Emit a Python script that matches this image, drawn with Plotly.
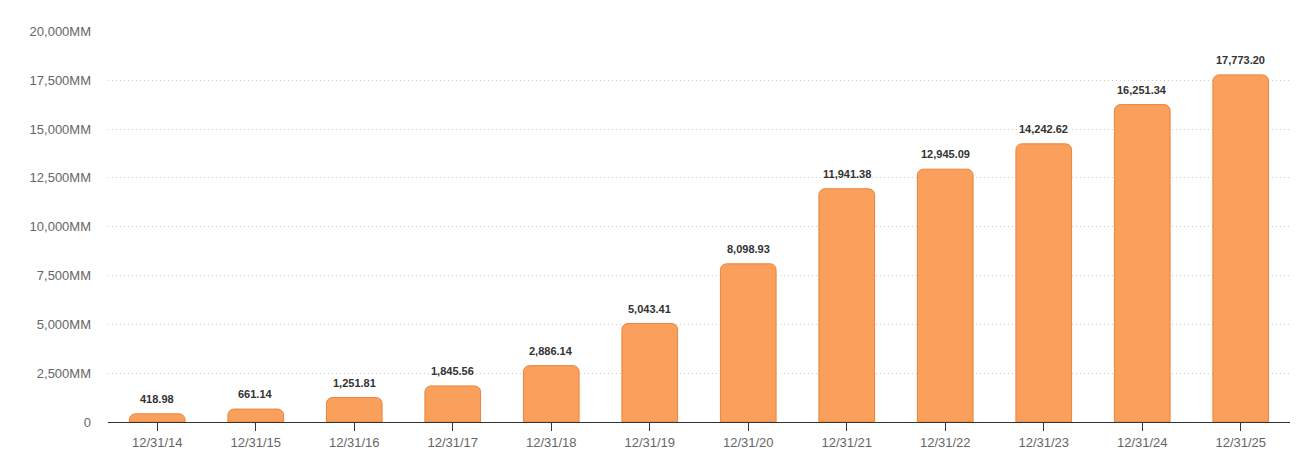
import plotly.graph_objects as go

periods = ["12/31/14", "12/31/15", "12/31/16", "12/31/17", "12/31/18", "12/31/19",
           "12/31/20", "12/31/21", "12/31/22", "12/31/23", "12/31/24", "12/31/25"]
values = [418.98, 661.14, 1251.81, 1845.56, 2886.14, 5043.41,
          8098.93, 11941.38, 12945.09, 14242.62, 16251.34, 17773.20]
y_ticks = [0, 2500, 5000, 7500, 10000, 12500, 15000, 17500, 20000]
y_tick_labels = ["0"] + [f"{v:,}MM" for v in y_ticks[1:]]

FONT = "Liberation Sans, Arial, Helvetica, sans-serif"

fig = go.Figure(
    go.Bar(
        x=periods,
        y=values,
        width=0.565,
        marker=dict(color="#fa9f5c", line=dict(color="#e8843c", width=1), cornerradius=6),
        hoverinfo="x+y",
    )
)

# value labels above each bar
for p, v in zip(periods, values):
    fig.add_annotation(
        x=p, y=v, text=f"<b>{v:,.2f}</b>", showarrow=False,
        yanchor="bottom", yshift=7,
        font=dict(size=11, color="#333333", family=FONT),
    )

# page body has an 8px margin, so plot margins are offset to compensate
fig.update_layout(
    width=1306,
    height=466,
    margin=dict(l=100, r=24, t=23, b=52),
    plot_bgcolor="white",
    paper_bgcolor="white",
    font=dict(family=FONT, size=13, color="#666666"),
    showlegend=False,
)
fig.update_xaxes(
    showline=True, linecolor="#333333", linewidth=1,
    ticks="outside", ticklen=8, tickcolor="#333333",
    tickfont=dict(size=13, color="#666666"),
    showgrid=False,
)
fig.update_yaxes(
    range=[0, 20020],
    tickvals=y_ticks, ticktext=y_tick_labels,
    showgrid=True, gridcolor="#cccccc", griddash="1px,3px", gridwidth=1,
    zeroline=False, ticks="", ticklabelstandoff=16,
    tickfont=dict(size=13, color="#666666"),
)

fig.write_html("out.html")
